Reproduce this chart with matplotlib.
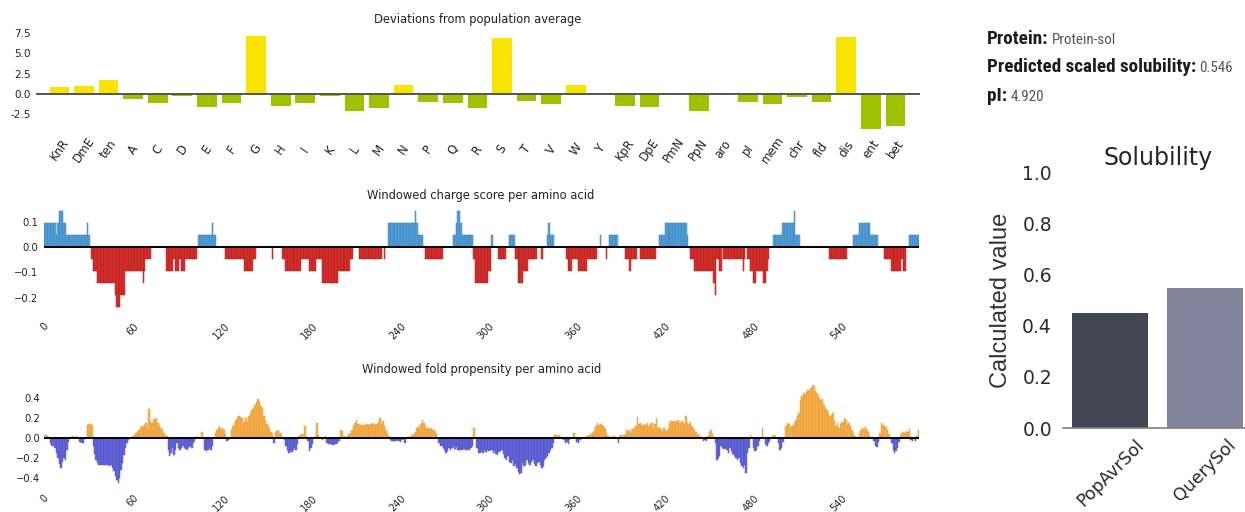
import numpy as np
import matplotlib
matplotlib.use("Agg")
import matplotlib.pyplot as plt
from matplotlib import font_manager as fm

# ---------------------------------------------------------------- data
feature_labels = ["KnR", "DmE", "ten", "A", "C", "D", "E", "F", "G", "H", "I", "K",
                  "L", "M", "N", "P", "Q", "R", "S", "T", "V", "W", "Y", "KpR",
                  "DpE", "PmN", "PpN", "aro", "pI", "mem", "chr", "fld", "dis",
                  "ent", "bet"]
feature_deviation = [0.82, 1.02, 1.72, -0.57, -1.15, -0.29, -1.64, -1.10, 7.13,
                     -1.48, -1.15, -0.29, -2.09, -1.76, 1.07, -1.02, -1.10, -1.76,
                     6.84, -0.82, -1.27, 1.07, 0.0, -1.52, -1.56, -0.16, -2.05,
                     -0.12, -0.94, -1.23, -0.33, -0.98, 7.05, -4.30, -3.93]

seq_length = 595
window_size = 21
# windowed net charge: (first residue, last residue, net charge in window)
charge_runs = [
    (0, 7, 2), (8, 8, 1), (9, 9, 2), (10, 12, 3), (13, 14, 2), (15, 28, 1),
    (29, 29, 2), (30, 30, 1),
    (32, 32, -1), (33, 35, -2), (36, 47, -3), (48, 48, -4), (49, 51, -5),
    (52, 54, -4), (55, 66, -2), (67, 67, -3), (68, 68, -2), (69, 72, -1),
    (83, 87, -2), (88, 88, -1), (89, 91, -2), (92, 92, -1), (93, 95, -2),
    (96, 103, -1),
    (105, 113, 1), (114, 114, 2), (115, 116, 1),
    (123, 135, -1), (136, 141, -2), (142, 143, -1),
    (155, 155, -1),
    (162, 163, -1), (164, 174, -2), (175, 179, -1), (180, 184, -2),
    (185, 188, -1), (189, 199, -3), (200, 207, -2), (208, 209, -1),
    (214, 229, -1), (231, 231, -1),
    (234, 251, 2), (252, 252, 3), (253, 253, 2), (254, 257, 1),
    (259, 270, -1),
    (278, 279, 1), (280, 280, 2), (281, 282, 3), (283, 283, 2), (284, 291, 1),
    (292, 292, -1), (293, 301, -3), (302, 303, -2), (304, 304, 1),
    (309, 313, -1),
    (316, 319, 1),
    (320, 321, -1), (322, 325, -3), (326, 328, -2), (329, 334, -1),
    (338, 338, -1),
    (342, 342, 1), (343, 343, 2), (344, 346, 1),
    (355, 355, -1), (356, 358, -2), (359, 362, -1), (363, 368, -2),
    (369, 375, -1),
    (378, 378, 1), (382, 382, -1), (384, 389, 1),
    (395, 397, -1), (398, 398, -2), (399, 402, -1),
    (405, 415, -1),
    (418, 421, 1), (422, 436, 2), (437, 437, 1),
    (439, 441, -1), (442, 454, -2), (455, 455, -3), (456, 456, -4),
    (457, 458, -1), (459, 460, -2),
    (462, 474, -1), (475, 475, -2), (476, 476, -1),
    (478, 479, -1), (480, 481, -2), (482, 483, -3), (484, 488, -2),
    (489, 490, -3), (491, 491, -2), (492, 492, -1),
    (496, 501, 1), (502, 509, 2), (510, 510, 3), (511, 513, 1),
    (534, 545, -1),
    (550, 553, 1), (554, 561, 2), (562, 566, 1),
    (571, 575, -1), (576, 582, -2), (583, 583, -1), (584, 585, -2),
    (588, 594, 1),
]

# windowed fold propensity per residue, in hundredths
fold_hundredths = [
    3, 3, 2, 1,                                                       # 0-3
    -5, -8, -7, -10, -15, -20, -26, -30, -24, -20, -22, -12, -4,      # 4-16
    1, 1, 2, 1, 2, 1, 0,                                              # 17-23
    -4, -5, -5, -1, 0,                                                # 24-28
    13, 14, 14, 13,                                                   # 29-32
    -8, -16, -22, -25, -27, -27, -27, -27, -27, -27, -27, -28,
    -27, -30, -33, -38, -42, -45, -40, -32, -25, -17, -10, -5,        # 33-56
    -2, 0,                                                            # 57-58
    1, 2, 3, 5, 6, 8, 10, 12, 11, 13, 15, 10, 29, 17, 15, 18, 19,
    20, 15, 12, 10, 8, 5, 3, 2,                                       # 59-83
    -12, -18, -15, -10, -17, -12, -5, -10, -12, -10, -8, -10, -11,
    -12, -9, -8, -10, -5, -3, 1, 2, 0,                                # 84-105
    0, 6, 0,                                                          # 106-108
    -12, -13, -12, -10, -12, -8, 0,                                   # 109-115
    5, 8, 10, 12, 9, 10, 8, 4,                                        # 116-123
    -3, -2, 0,                                                        # 124-126
    8, 12, 14, 18, 21, 22, 21, 20, 15, 17, 20, 16, 22, 25, 28, 30,
    33, 36, 39, 37, 32, 29, 22, 18, 14, 12, 10, 6, 4,                 # 127-155
    -5, 6, 7, 8, 5, 3, 0, -2,                                         # 156-163
    -8, -12, -15, -13, -14, -12, -10, -12, -6,                        # 164-172
    2, 3, 4, 3, 12, 2, -3,                                            # 173-179
    -13, -10, -6, 0, 2, 15, 3, 1, 0, -2, 0, 2,                        # 180-191
    -5, -6, -6, -6, -7, -6, -6, -5, -3,                               # 192-200
    8, 7, 1, 2, 0, 2, 4,                                              # 201-207
    5, 8, 12, 15, 18, 14, 13, 13, 13, 13, 13, 14, 13, 13, 14, 15,
    14, 13, 14, 16, 20, 14, 17, 12, 8, 5, 2,                          # 208-234
    -2, -3, -3, -3, -3, -2, -3, -4, -2, -1, -5,                       # 235-245
    0, 1, 0, 2, 3, 4,                                                 # 246-251
    6, 10, 12, 9, 14, 18, 15, 12, 10, 10, 9, 10, 8, 8, 5, 0,          # 252-267
    -5, -8, -8, -10, -12, -15, -13, -10, -12, -10, -8, -11, -9, -12,
    -12, -12, -12, -11, -12, -12, -11, -12, -10, -8,                  # 268-291
    10, 0,                                                            # 292-293
    -10, -15, -15, -13, -15, -12, -14,                                # 294-300
    -12, -13, -12, -12, -15, -13, -16, -17, -14, -13, -12, -16, -20,
    -22, -18, -24, -25, -22, -28, -26, -30, -34, -36, -35, -25, -28,
    -27, -22, -25, -27, -24, -22, -26, -28, -25, -24, -27, -30, -28,
    -22, -20, -18, -15, -12, -10, -5,                                 # 301-346
    3, 3, 2, 3, 1, 0,                                                 # 347-352
    -2, -5, -4, -6, -2, 0,                                            # 353-358
    1, 5, 0, -4, -5, -2,                                              # 359-364
    0, 1, 0, 1, 2, 3, 3,                                              # 365-371
    5, 6, 8, 12, 15, 13, 14, 13, 12, 10, 5, 2,                        # 372-383
    0, 1, 0, 2, 1, 0, -5,                                             # 384-390
    2, 3, 1, 3, 4, 8, 6, 8, 5, 9, 10, 12, 21,                         # 391-403
    14, 15, 13, 12, 14, 13, 15, 12, 14, 15, 10, 14, 20,               # 404-416
    10, 11, 9, 6, 10, 8, 7, 9,                                        # 417-424
    15, 17, 16, 17, 16, 17, 18, 15, 17, 16, 14, 22,                   # 425-436
    15, 14, 16, 12, 10, 8, 6, 4, 3, 1, 0,                             # 437-447
    -3, -2, -3, 2, 6, 8, 4, 1,                                        # 448-455
    -5, -22, -20, -18, -8, -10, -11, -10, -12, -15, -10, -13, -16,
    -18, -20, -22, -20, -25, -28, -30, -27, -35, -15, -10,            # 456-479
    3, 0, -10, -13, -12, -8, -3, 0, 10, 0,                            # 480-489
    -6, -8, -5, -3, 0, 2, 3, 2, 0,                                    # 490-498
    -5, -12, -10, -4, 0,                                              # 499-503
    12, 15, 14, 10, 12, 13, 15, 18, 22, 25, 38, 42, 45, 44, 46, 48,
    47, 50, 53, 52, 47, 45, 42, 40, 38, 39, 33, 30, 28, 25, 22, 23,
    25, 17, 12, 15, 10, 14, 16, 15, 20, 18, 13, 15, 12, 8, 5,         # 504-550
    2, 0, 1, 5, 8, 10, 9, 11, 8, 6, 3, 0, 1,                          # 551-563
    -3, -8, -9, -4,                                                   # 564-567
    5, 15, 13, 12, 11, 8, 4, 0,                                       # 568-575
    -5, -12, -15, -13, -10, -4,                                       # 576-581
    3, 5, 6, 5, 7, 6, 9,                                              # 582-588
    -2, -3, -1, -3, 2, 8,                                             # 589-594
]

solubility_labels = ["PopAvrSol", "QuerySol"]
solubility_values = [0.45, 0.546]

protein_name = "Protein-sol"
scaled_solubility = 0.546
isoelectric_point = 4.920

# ---------------------------------------------------------------- layout
W, H = 1245, 512
fig = plt.figure(figsize=(W / 100, H / 100), dpi=100)
fig.patch.set_facecolor("white")

TEXT = "#222222"


def narrow_font():
    """Pick a condensed sans face if one is installed."""
    names = {f.name for f in fm.fontManager.ttflist}
    for name in ["Liberation Sans Narrow", "Roboto Condensed", "Open Sans Condensed",
                 "Noto Sans Condensed"]:
        if name in names:
            return {"fontfamily": name}
    for f in fm.fontManager.ttflist:
        if f.name == "DejaVu Sans" and "Condensed" in f.fname:
            return {"fontfamily": "DejaVu Sans", "fontstretch": "condensed"}
    return {"fontfamily": "Liberation Sans"}


def add_axes_px(left, top, right, bottom):
    return fig.add_axes([left / W, 1 - bottom / H, (right - left) / W, (bottom - top) / H])


def strip(ax):
    for s in ax.spines.values():
        s.set_visible(False)
    ax.tick_params(length=0, colors=TEXT)


# ---- deviations from population average
ax1 = add_axes_px(36, 32.2, 920, 131.4)
xf = np.arange(len(feature_labels))
dev = np.array(feature_deviation)
ax1.bar(xf, dev, width=0.8, color=np.where(dev > 0, "#F8E400", "#9EC200"), zorder=2)
ax1.axhline(0, color="#555555", lw=1.4, zorder=3)
ax1.set_xlim(-0.95, 35.0)
ax1.set_ylim(-4.6, 7.6)
strip(ax1)
ax1.set_yticks([-2.5, 0.0, 2.5, 5.0, 7.5])
ax1.set_yticklabels(["-2.5", "0.0", "2.5", "5.0", "7.5"], fontsize=7.5)
ax1.tick_params(axis="y", pad=4)
ax1.set_xticks(xf)
ax1.set_xticklabels(feature_labels, fontsize=8.5, rotation=55, ha="center", va="center")
ax1.tick_params(axis="x", pad=13)
fig.text(478 / W, 1 - 20 / H, "Deviations from population average", ha="center",
         va="center", fontsize=8.3, color=TEXT)

# ---- windowed charge score
charge = np.zeros(seq_length)
for start, stop, level in charge_runs:
    charge[start:stop + 1] = level / window_size
xs = np.arange(seq_length)
ax2 = add_axes_px(44, 206.5, 919, 312.8)
nz = charge != 0
ax2.bar(xs[nz], charge[nz], width=1.0,
        color=np.where(charge[nz] > 0, "#5AA6DD", "#E03532"),
        edgecolor=np.where(charge[nz] > 0, "#3C82BC", "#B01F1C"), linewidth=0.35, zorder=2)
ax2.axhline(0, color="black", lw=1.4, zorder=3)
ax2.set_xlim(-0.5, seq_length - 0.5)
ax2.set_ylim(-0.26, 0.16)
strip(ax2)
ax2.set_yticks([-0.2, -0.1, 0.0, 0.1])
ax2.tick_params(axis="y", labelsize=7.2, pad=4)
ax2.set_xticks(np.arange(0, 541, 60))
ax2.set_xticklabels([str(v) for v in range(0, 541, 60)], fontsize=7.2, rotation=45,
                    ha="center", va="top")
ax2.tick_params(axis="x", pad=6)
fig.text(481 / W, 1 - 195 / H, "Windowed charge score per amino acid", ha="center",
         va="center", fontsize=8.3, color=TEXT)

# ---- windowed fold propensity
fold = np.array(fold_hundredths) / 100.0
xr = np.arange(len(fold))
ax3 = add_axes_px(44, 383.3, 919, 488.3)
fz = fold != 0
ax3.bar(xr[fz], fold[fz], width=1.0,
        color=np.where(fold[fz] > 0, "#F7B24F", "#6A6ADF"),
        edgecolor=np.where(fold[fz] > 0, "#E89C34", "#4E4EC4"), linewidth=0.3, zorder=2)
ax3.axhline(0, color="black", lw=1.4, zorder=3)
ax3.set_xlim(-0.5, seq_length - 0.5)
ax3.set_ylim(-0.5, 0.55)
strip(ax3)
ax3.set_yticks([-0.4, -0.2, 0.0, 0.2, 0.4])
ax3.tick_params(axis="y", labelsize=7.2, pad=3)
ax3.set_xticks(np.arange(0, 541, 60))
ax3.set_xticklabels([str(v) for v in range(0, 541, 60)], fontsize=7, rotation=45,
                    ha="center", va="top")
ax3.tick_params(axis="x", pad=3.5)
fig.text(482 / W, 1 - 370 / H, "Windowed fold propensity per amino acid", ha="center",
         va="center", fontsize=8.3, color=TEXT)

# ---- summary text (sized so the longest line spans about 210 px)
renderer = fig.canvas.get_renderer()
nf = narrow_font()
probe = fig.text(0, 0, "Predicted scaled solubility:", fontweight="bold", fontsize=14, **nf)
scale = min(1.0, 210.0 / probe.get_window_extent(renderer).width)
probe.remove()
rows = [("Protein:", protein_name, 44),
        ("Predicted scaled solubility:", f"{scaled_solubility:.3f}", 72),
        ("pI:", f"{isoelectric_point:.3f}", 101)]
for label, value, ybase in rows:
    t = fig.text(987 / W, 1 - ybase / H, label, fontweight="bold",
                 fontsize=14 * scale, color="#1c1c1c", va="baseline", ha="left", **nf)
    bb = t.get_window_extent(renderer)
    fig.text((bb.x1 + 3) / W, 1 - ybase / H, value, fontsize=11 * max(scale, 0.9),
             color="#555555", va="baseline", ha="left", **nf)

# ---- solubility bar chart
ax4 = add_axes_px(1063, 172, 1252.5, 428)
ax4.bar(np.arange(2), solubility_values, width=0.8, color=["#434552", "#82849E"], zorder=2)
ax4.set_xlim(-0.5, 1.5)
ax4.set_ylim(0, 1.0)
for s in ["top", "right", "left"]:
    ax4.spines[s].set_visible(False)
ax4.spines["bottom"].set_color("#808080")
ax4.spines["bottom"].set_linewidth(1.2)
ax4.set_yticks(np.round(np.arange(0, 1.01, 0.2), 1))
ax4.set_yticklabels([f"{v:.1f}" for v in np.arange(0, 1.01, 0.2)])
ax4.tick_params(length=0, labelsize=13.5, colors="#2a2a2a")
ax4.tick_params(axis="y", pad=8)
ax4.set_xticks(np.arange(2))
ax4.set_xticklabels(solubility_labels, rotation=45, ha="center", va="top", fontsize=12.5)
ax4.tick_params(axis="x", pad=6)
ax4.set_title("Solubility", fontsize=17, pad=5, color="#262626")
ax4.set_ylabel("Calculated value", fontfamily="Liberation Sans", fontsize=17, color="#333333")
ax4.yaxis.set_label_coords(-0.27, 0.5)

fig.savefig("out.png", dpi=100, facecolor="white")
